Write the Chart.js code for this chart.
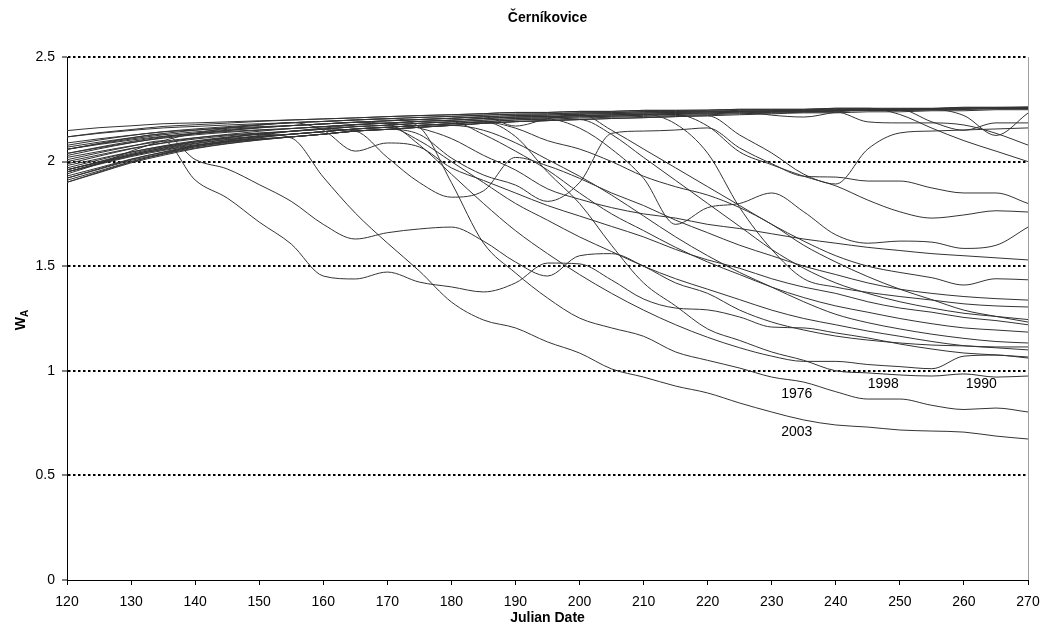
<!DOCTYPE html>
<html>
<head>
<meta charset="utf-8">
<title>Černíkovice</title>
<script src="https://cdn.jsdelivr.net/npm/chart.js@4.4.1/dist/chart.umd.min.js"></script>
<style>
  html, body { margin: 0; background: #fff; }
</style>
</head>
<body>
<canvas id="chartWa" width="1041" height="635"></canvas>
<script>
// Texto del gráfico
const chartTitle = 'Černíkovice';
const xTitle = 'Julian Date';

// Días julianos (cada 5 días)
const days = [120,125,130,135,140,145,150,155,160,165,170,175,180,185,190,195,200,205,210,215,220,225,230,235,240,245,250,255,260,265,270];

// Series W_A (una por año)
const run01 = [2.148,2.162,2.171,2.181,2.185,2.190,2.195,2.199,2.204,2.209,2.215,2.220,2.224,2.229,2.235,2.235,2.240,2.240,2.245,2.245,2.246,2.250,2.250,2.250,2.255,2.255,2.255,2.255,2.260,2.260,2.262];
const run02 = [1.941,1.990,2.050,2.100,2.135,2.160,2.174,2.186,2.192,2.199,2.205,2.211,2.216,2.222,2.227,2.228,2.233,2.234,2.239,2.240,2.241,2.245,2.246,2.247,2.251,2.252,2.252,2.253,2.257,2.258,2.258];
const run03 = [2.059,2.085,2.108,2.128,2.142,2.154,2.164,2.172,2.180,2.188,2.195,2.201,2.207,2.214,2.170,2.205,2.227,2.229,2.233,2.235,2.237,2.241,2.243,2.244,2.248,2.249,2.249,2.251,2.254,2.256,2.256];
const run04 = [1.921,1.963,2.006,2.039,2.076,2.100,2.125,2.145,2.160,2.175,2.184,2.192,2.198,2.206,2.213,2.215,2.220,2.223,2.227,2.230,2.232,2.237,2.239,2.241,2.244,2.246,2.246,2.249,2.251,2.254,2.254];
const run05 = [2.078,2.103,2.125,2.143,2.156,2.167,2.177,2.186,2.192,2.199,2.205,2.211,2.216,2.222,2.227,2.228,2.233,2.234,2.239,2.240,2.241,2.240,2.222,2.213,2.236,2.250,2.252,2.253,2.257,2.258,2.258];
const run06 = [2.039,2.066,2.091,2.112,2.128,2.140,2.150,2.158,2.167,2.177,2.184,2.192,2.198,2.206,2.213,2.215,2.220,2.223,2.227,2.230,2.232,2.237,2.239,2.241,2.244,2.246,2.246,2.249,2.220,2.125,2.232];
const run07 = [2.029,2.061,2.090,2.115,2.133,2.148,2.161,2.172,2.180,2.188,2.195,2.201,2.207,2.214,2.220,2.222,2.227,2.229,2.233,2.235,2.237,2.241,2.243,2.244,2.248,2.249,2.249,2.190,2.150,2.185,2.185];
const run08 = [1.961,1.998,2.034,2.064,2.088,2.106,2.120,2.131,2.143,2.156,2.164,2.173,2.181,2.190,2.199,2.203,2.208,2.212,2.216,2.220,2.224,2.229,2.232,2.236,2.237,2.190,2.185,2.185,2.175,2.135,2.079];
const run09 = [1.931,1.971,2.012,2.044,2.071,2.091,2.106,2.118,2.131,2.146,2.154,2.164,2.173,2.183,2.191,2.196,2.201,2.206,2.210,2.215,2.219,2.127,2.041,1.940,1.893,2.060,2.137,2.146,2.151,2.156,2.161];
const run10 = [2.118,2.138,2.153,2.168,2.176,2.184,2.192,2.199,2.204,2.209,2.215,2.220,2.224,2.229,2.235,2.235,2.240,2.240,2.245,2.245,2.246,2.250,2.250,2.250,2.255,2.255,2.225,2.160,2.100,2.050,2.000];
const run11 = [1.901,1.947,1.994,2.030,2.062,2.085,2.103,2.118,2.131,2.146,2.154,2.130,2.017,1.936,1.888,1.810,1.900,2.135,2.146,2.151,2.161,2.065,1.990,1.930,1.926,1.907,1.907,1.874,1.850,1.850,1.800];
const run12 = [2.000,2.032,2.063,2.088,2.108,2.123,2.135,2.145,2.155,2.167,2.174,2.183,2.190,2.198,2.206,2.209,2.214,2.217,2.222,2.225,2.170,2.046,1.985,1.930,1.884,1.816,1.760,1.730,1.745,1.765,1.759];
const run13 = [1.921,1.966,2.010,2.046,2.076,2.098,2.116,2.131,2.143,2.156,2.164,2.173,2.181,2.190,2.199,2.203,2.160,2.060,1.920,1.700,1.780,1.800,1.850,1.760,1.650,1.610,1.620,1.615,1.585,1.600,1.687];
const run14 = [2.009,2.042,2.073,2.100,1.912,1.826,1.711,1.606,1.453,1.439,1.472,1.424,1.401,1.377,1.420,1.515,1.511,1.434,1.343,1.300,1.291,1.257,1.209,1.205,1.181,1.157,1.128,1.104,1.085,1.076,1.066];
const run15 = [2.069,2.093,2.114,2.132,2.010,1.965,1.890,1.810,1.700,1.630,1.660,1.678,1.687,1.620,1.520,1.453,1.550,1.560,1.500,1.420,1.370,1.290,1.233,1.195,1.166,1.147,1.133,1.123,1.119,1.114,1.114];
const run16 = [2.058,2.087,2.113,2.134,2.150,2.163,2.175,2.186,2.150,2.050,2.089,2.070,1.970,1.910,1.850,1.790,1.740,1.690,1.640,1.580,1.530,1.490,1.440,1.400,1.370,1.330,1.300,1.280,1.255,1.240,1.220];
const run17 = [2.020,2.048,2.075,2.097,2.114,2.127,2.137,2.145,2.155,2.146,2.020,1.900,1.830,1.860,2.020,1.980,1.920,1.850,1.790,1.720,1.660,1.600,1.550,1.500,1.460,1.420,1.390,1.370,1.355,1.345,1.338];
const run18 = [1.989,2.026,2.061,2.090,2.113,2.130,2.145,2.158,2.167,2.177,2.184,2.160,2.110,2.030,1.960,1.870,1.820,1.780,1.750,1.730,1.700,1.680,1.655,1.630,1.610,1.590,1.575,1.560,1.550,1.540,1.530];
const run19 = [2.039,2.069,2.096,2.119,2.136,2.150,2.162,2.172,2.180,2.188,2.195,2.201,2.207,2.214,2.220,2.222,2.227,2.150,2.060,1.970,1.880,1.790,1.700,1.620,1.550,1.500,1.470,1.445,1.410,1.440,1.435];
const run20 = [1.981,2.014,2.046,2.073,2.094,2.110,2.122,2.131,2.143,2.156,2.164,2.173,2.181,2.190,2.160,2.100,2.060,2.000,1.930,1.880,1.840,1.780,1.700,1.600,1.520,1.450,1.390,1.340,1.290,1.260,1.233];
const run21 = [2.059,2.082,2.103,2.121,2.134,2.144,2.152,2.158,2.167,2.177,2.184,2.192,2.198,2.206,2.213,2.215,2.220,2.223,2.227,2.180,2.040,1.780,1.580,1.440,1.400,1.375,1.355,1.338,1.320,1.310,1.305];
const run22 = [1.970,2.008,2.045,2.075,2.099,2.117,2.132,2.145,2.155,2.167,2.174,2.183,2.190,2.130,2.050,1.960,1.850,1.750,1.670,1.590,1.520,1.460,1.400,1.350,1.310,1.280,1.250,1.225,1.205,1.195,1.185];
const run23 = [1.951,1.987,2.024,2.053,2.077,2.095,2.108,2.118,2.131,2.146,2.154,2.164,2.173,2.150,2.090,2.010,1.930,1.840,1.740,1.640,1.550,1.470,1.400,1.330,1.270,1.230,1.200,1.175,1.155,1.140,1.133];
const run24 = [1.911,1.955,2.000,2.035,2.065,2.087,2.104,2.118,2.131,2.146,2.154,2.164,2.173,2.183,2.191,2.196,2.201,2.130,2.020,1.910,1.800,1.690,1.580,1.490,1.420,1.370,1.330,1.300,1.275,1.260,1.245];
const run25 = [1.951,1.990,2.028,2.060,2.085,2.104,2.119,2.131,2.143,2.156,2.164,2.100,2.000,1.900,1.800,1.720,1.640,1.570,1.500,1.440,1.390,1.340,1.290,1.250,1.220,1.190,1.165,1.140,1.120,1.110,1.100];
const run26 = [1.960,2.000,2.039,2.070,2.096,2.115,2.131,2.145,2.155,2.167,2.174,2.183,2.190,2.198,2.206,2.209,2.214,2.217,2.222,2.225,2.228,2.233,2.235,2.239,2.240,2.244,2.244,2.247,2.249,2.252,2.252];
const run27 = [1.961,1.995,2.030,2.057,2.080,2.097,2.109,2.118,2.131,2.146,2.154,2.164,2.173,2.183,2.191,2.196,2.201,2.206,2.210,2.215,2.219,2.224,2.228,2.233,2.233,2.238,2.238,2.243,2.243,2.248,2.248];
const w1998 = [2.089,2.109,2.126,2.142,2.151,2.160,2.167,2.172,2.180,2.188,2.180,2.080,1.940,1.800,1.670,1.560,1.460,1.370,1.290,1.220,1.160,1.110,1.070,1.045,1.045,1.030,1.020,1.010,1.070,1.075,1.061];
const w1990 = [1.901,1.950,1.998,2.037,2.070,2.094,2.114,2.131,2.143,2.156,2.164,2.173,2.181,2.190,2.120,1.950,1.800,1.600,1.420,1.310,1.200,1.145,1.090,1.050,1.000,0.990,0.980,0.975,0.985,0.970,0.975];
const w1976 = [2.118,2.135,2.149,2.161,2.168,2.175,2.181,2.186,2.192,2.199,2.205,2.165,1.900,1.611,1.468,1.348,1.252,1.205,1.165,1.090,1.050,1.013,0.970,0.946,0.900,0.865,0.865,0.835,0.815,0.822,0.803];
const w2003 = [1.950,1.992,2.033,2.066,2.093,2.113,2.130,2.113,1.926,1.754,1.611,1.477,1.329,1.243,1.205,1.138,1.085,1.009,0.970,0.927,0.894,0.846,0.803,0.765,0.741,0.731,0.717,0.712,0.707,0.688,0.674];

// Etiquetas de año sobre el gráfico (día, W_A)
const yearLabels = ['1976', '1998', '1990', '2003'];
const labelDays  = [233.9, 247.4, 262.7, 233.9];
const labelW     = [0.889, 0.937, 0.937, 0.707];

const FONT = "'Liberation Sans', Arial, sans-serif";

const allRuns = [run01, run02, run03, run04, run05, run06, run07, run08, run09, run10,
  run11, run12, run13, run14, run15, run16, run17, run18, run19, run20,
  run21, run22, run23, run24, run25, run26, run27, w1998, w1990, w1976, w2003];

// Título, títulos de ejes, etiquetas y borde derecho
const decor = {
  id: 'decor',
  afterDraw(chart) {
    const { ctx, chartArea: a, scales: { x, y } } = chart;
    ctx.save();
    ctx.strokeStyle = '#a0a0a0';
    ctx.lineWidth = 1;
    ctx.beginPath();
    ctx.moveTo(a.right + 0.5, a.top);
    ctx.lineTo(a.right + 0.5, a.bottom);
    ctx.stroke();

    ctx.fillStyle = '#000';
    ctx.textAlign = 'center';
    ctx.textBaseline = 'middle';
    ctx.font = `bold 14px ${FONT}`;
    const cx = (a.left + a.right) / 2;
    ctx.fillText(chartTitle, cx, 18);
    ctx.fillText(xTitle, cx, 618);

    // W con subíndice A, girado
    ctx.save();
    ctx.translate(20, 320);
    ctx.rotate(-Math.PI / 2);
    ctx.textAlign = 'left';
    ctx.textBaseline = 'alphabetic';
    ctx.font = `bold 14px ${FONT}`;
    const wW = ctx.measureText('W').width;
    ctx.font = `bold 10px ${FONT}`;
    const wA = ctx.measureText('A').width;
    const x0 = -(wW + wA) / 2;
    ctx.font = `bold 14px ${FONT}`;
    ctx.fillText('W', x0, 5);
    ctx.font = `bold 10px ${FONT}`;
    ctx.fillText('A', x0 + wW, 8);
    ctx.restore();

    ctx.font = `14px ${FONT}`;
    yearLabels.forEach((t, i) => {
      ctx.fillText(t, x.getPixelForValue(labelDays[i]), y.getPixelForValue(labelW[i]));
    });
    ctx.restore();
  }
};

const ctx = document.getElementById('chartWa').getContext('2d');
new Chart(ctx, {
  type: 'line',
  data: {
    datasets: allRuns.map(r => ({
      data: days.map((d, i) => ({ x: d, y: r[i] })),
      borderColor: '#333333',
      borderWidth: 1,
      pointRadius: 0,
      tension: 0.4,
      cubicInterpolationMode: 'monotone',
      fill: false
    }))
  },
  options: {
    responsive: false,
    animation: false,
    events: [],
    layout: { padding: { top: 57, right: 13, left: 0, bottom: 0 } },
    plugins: { legend: { display: false }, tooltip: { enabled: false }, title: { display: false } },
    scales: {
      x: {
        type: 'linear',
        min: 120,
        max: 270,
        ticks: { stepSize: 10, color: '#000', font: { family: FONT, size: 14 }, padding: 9, maxRotation: 0 },
        grid: { drawOnChartArea: false, tickLength: 5, tickColor: '#000', tickWidth: 1 },
        border: { color: '#000', width: 1 },
        afterFit: s => { s.height = 55; s.paddingLeft = 0; s.paddingRight = 0; }
      },
      y: {
        min: 0,
        max: 2.5,
        ticks: { stepSize: 0.5, color: '#000', font: { family: FONT, size: 14 }, padding: 7, callback: v => String(v) },
        grid: {
          color: c => (c.tick && c.tick.value === 0) ? 'rgba(0,0,0,0)' : '#000',
          lineWidth: 2,
          tickLength: 5,
          tickColor: '#000',
          tickWidth: 1
        },
        border: { color: '#000', width: 1, dash: [2.5, 2.5] },
        afterFit: s => { s.width = 67; s.paddingTop = 0; s.paddingBottom = 0; }
      }
    }
  },
  plugins: [decor]
});
</script>
</body>
</html>
